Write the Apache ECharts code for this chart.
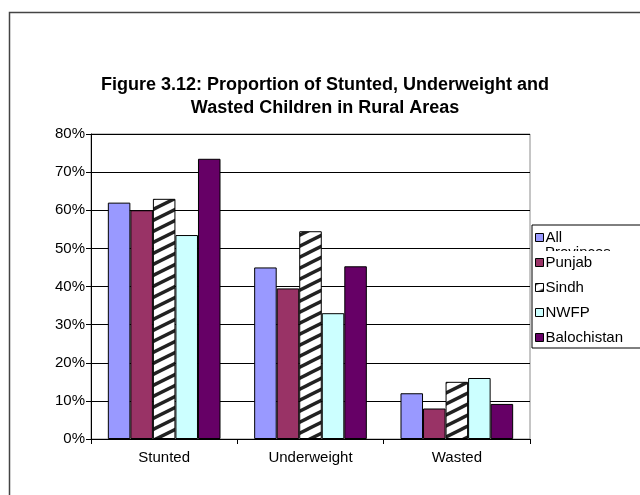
<!DOCTYPE html>
<html>
<head>
<meta charset="utf-8">
<script src="https://cdn.jsdelivr.net/npm/echarts@6/dist/echarts.min.js"></script>
<style>
  html, body { margin: 0; padding: 0; background: #fff; }
  #chart { width: 640px; height: 495px; }
</style>
</head>
<body>
<div id="chart"></div>
<script>
// Proportion (%) of stunted, underweight and wasted children, rural areas
const categories = ['Stunted', 'Underweight', 'Wasted'];
const regions = ['All Provinces', 'Punjab', 'Sindh', 'NWFP', 'Balochistan'];
const allProvinces = [62, 45, 12];
const punjab = [60, 39.5, 8];
const sindh = [63, 54.5, 15];
const nwfp = [53.5, 33, 16];
const balochistan = [73.5, 45.3, 9.2];
const yTicks = [0, 10, 20, 30, 40, 50, 60, 70, 80];

// diagonal hatch fill used for Sindh
function hatch() {
  const w = 22, h = 11;
  const c = document.createElement('canvas');
  c.width = w; c.height = h;
  const g = c.getContext('2d');
  g.fillStyle = '#fff';
  g.fillRect(0, 0, w, h);
  g.strokeStyle = '#222';
  g.lineWidth = 3.4;
  for (const off of [-h, 0, h]) {
    g.beginPath();
    g.moveTo(-w, 2 * h + off);
    g.lineTo(2 * w, -h + off);
    g.stroke();
  }
  return { image: c, repeat: 'repeat' };
}

const fills = ['#9999FF', '#993366', hatch(), '#CCFFFF', '#660066'];
const values = [allProvinces, punjab, sindh, nwfp, balochistan];
const font = 'Liberation Sans, Arial, sans-serif';

const chart = echarts.init(document.getElementById('chart'), null, { renderer: 'canvas' });

chart.setOption({
  animation: false,
  backgroundColor: '#fff',
  title: {
    text: 'Figure 3.12: Proportion of Stunted, Underweight and\nWasted Children in Rural Areas',
    left: 320,
    top: 69,
    textAlign: 'center',
    textStyle: { fontFamily: font, fontSize: 18, fontWeight: 'bold', color: '#000', lineHeight: 23 }
  },
  grid: {
    left: 91, top: 134, right: 110, bottom: 56,
    show: true, borderColor: '#8c8c8c', borderWidth: 1, backgroundColor: 'transparent'
  },
  legend: {
    orient: 'vertical',
    left: 532, top: 225,
    padding: [4, 40, 2, 3],
    itemGap: 8,
    itemWidth: 8, itemHeight: 8,
    icon: 'rect',
    borderColor: '#000', borderWidth: 1,
    backgroundColor: '#fff',
    textStyle: { fontFamily: font, fontSize: 15, color: '#000', padding: [0, 0, 0, -3], lineHeight: 17 },
    itemStyle: { borderColor: '#000', borderWidth: 1 },
    formatter: n => n === 'All Provinces' ? 'All' : n,
    data: regions
  },
  xAxis: {
    type: 'category',
    data: categories,
    axisLine: { lineStyle: { color: '#000', width: 1 } },
    axisTick: { show: true, length: 5, lineStyle: { color: '#000' } },
    axisLabel: { fontFamily: font, fontSize: 15, color: '#000', margin: 11 },
    splitLine: { show: false }
  },
  yAxis: {
    type: 'value',
    min: yTicks[0], max: yTicks[yTicks.length - 1], interval: 10,
    axisLine: { show: true, lineStyle: { color: '#000', width: 1 } },
    axisTick: { show: true, length: 5, lineStyle: { color: '#000' } },
    axisLabel: { fontFamily: font, fontSize: 15, color: '#000', margin: 6, formatter: '{value}%' },
    splitLine: { show: true, lineStyle: { color: '#000', width: 1 } }
  },
  graphic: [
    // outer chart frame
    { type: 'rect', silent: true, z: 100,
      shape: { x: 9.5, y: 12.5, width: 800, height: 600 },
      style: { fill: 'none', stroke: '#444', lineWidth: 1.5 } }
  ],
  series: regions.map((name, i) => ({
    name,
    type: 'bar',
    data: values[i],
    barGap: '0%',
    barCategoryGap: '23%',
    itemStyle: { color: fills[i], borderColor: '#000', borderWidth: 1 }
  }))
});

// second line of the first legend entry, only its top edge shows above the next row
const wrapLine = new echarts.graphic.Text({
  silent: true,
  z: 100,
  style: { text: 'Provinces', x: 545, y: 245, fill: '#000', font: '15px ' + font, verticalAlign: 'top' }
});
wrapLine.setClipPath(new echarts.graphic.Rect({ shape: { x: 540, y: 244, width: 100, height: 7 } }));
chart.getZr().add(wrapLine);
</script>
</body>
</html>
